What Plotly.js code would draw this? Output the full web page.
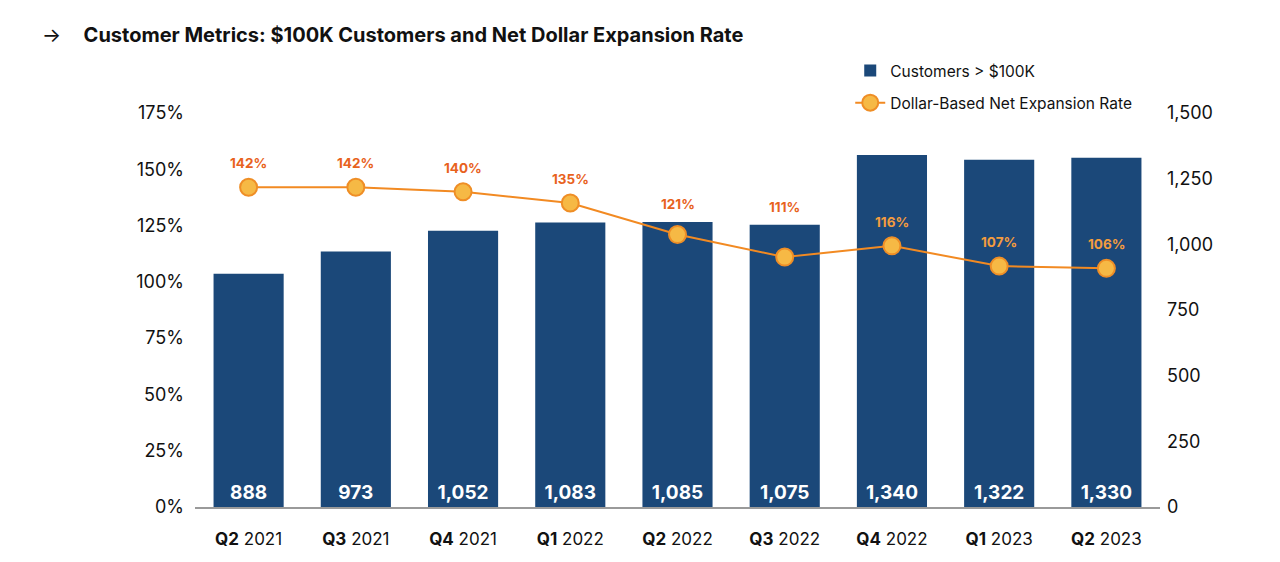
<!DOCTYPE html>
<html>
<head>
<meta charset="utf-8">
<script src="https://cdn.plot.ly/plotly-3.0.1.min.js"></script>
<style>
  html, body { margin: 0; padding: 0; background: #fff; }
  #chart { width: 1280px; height: 562px; }
</style>
</head>
<body>
<div id="chart"></div>
<script>
// ---- Data ----
const quarters = ["Q2", "Q3", "Q4", "Q1", "Q2", "Q3", "Q4", "Q1", "Q2"];
const years = ["2021", "2021", "2021", "2022", "2022", "2022", "2022", "2023", "2023"];
const customers100k = [888, 973, 1052, 1083, 1085, 1075, 1340, 1322, 1330];
const netExpansionRate = [142, 142, 140, 135, 121, 111, 116, 107, 106];
const seriesNames = ["Customers > $100K", "Dollar-Based Net Expansion Rate"];
const chartTitle = "Customer Metrics: $100K Customers and Net Dollar Expansion Rate";
const leftTicks = [0, 25, 50, 75, 100, 125, 150, 175];
const rightTicks = [0, 250, 500, 750, 1000, 1250, 1500];

// ---- Layout constants ----
const FONT = "Inter, 'Noto Sans', 'DejaVu Sans', sans-serif";
const MARGIN = { l: 195, r: 120, t: 113, b: 55 };
const PLOT_H = 562 - MARGIN.t - MARGIN.b;
const LEFT_MAX = 175, RIGHT_MAX = 1500;

// ---- Derived ----
const categories = quarters.map((q, i) => "<b>" + q + "</b> " + years[i]);
const barLabels = customers100k.map(v => v.toLocaleString("en-US"));
const rateLabels = netExpansionRate.map(v => v + "%");

// label offset above each point (px); lift a label that would straddle its bar top
const labelShift = netExpansionRate.map((v, i) => {
  const pt = v / LEFT_MAX * PLOT_H;
  const bar = customers100k[i] / RIGHT_MAX * PLOT_H;
  const base = 24;
  if (pt + base < bar + 14 && pt + base > bar - 22) return Math.max(base, bar - pt + 18);
  return base;
});
const labelColors = netExpansionRate.map((v, i) => {
  const pt = v / LEFT_MAX * PLOT_H + labelShift[i];
  const bar = customers100k[i] / RIGHT_MAX * PLOT_H;
  return pt < bar ? "#F39C3E" : "#E8621D";
});

const barTrace = {
  type: "bar",
  name: seriesNames[0],
  x: categories,
  y: customers100k,
  yaxis: "y",
  marker: { color: "#1B4879" },
  text: barLabels,
  texttemplate: "%{text}",
  textposition: "inside",
  insidetextanchor: "start",
  constraintext: "none",
  textangle: 0,
  textfont: { family: FONT, size: 19, color: "#ffffff", weight: 700 },
  legendgroup: "a"
};

const lineTrace = {
  type: "scatter",
  mode: "lines+markers",
  name: seriesNames[1],
  x: categories,
  y: netExpansionRate,
  yaxis: "y2",
  line: { color: "#F28A22", width: 2 },
  marker: { size: 17, color: "#F6B945", line: { color: "#EF8E26", width: 2 } },
  legendgroup: "b"
};

const rateAnnotations = netExpansionRate.map((v, i) => ({
  x: categories[i],
  y: v,
  xref: "x",
  yref: "y2",
  text: "<b>" + rateLabels[i] + "</b>",
  showarrow: false,
  yshift: labelShift[i],
  font: { family: FONT, size: 13.5, color: labelColors[i] }
}));

const layout = {
  width: 1280,
  height: 562,
  paper_bgcolor: "#ffffff",
  plot_bgcolor: "#ffffff",
  font: { family: FONT, color: "#111111" },
  margin: MARGIN,
  title: {
    text: "→\u00a0\u00a0\u00a0\u00a0<b>" + chartTitle + "</b>",
    font: { family: FONT, size: 20, color: "#111111" },
    x: 42 / 1280, xref: "container", xanchor: "left",
    y: 1 - 35 / 562, yref: "container", yanchor: "middle"
  },
  showlegend: true,
  legend: {
    x: 0.679, xanchor: "left",
    y: 1.15, yanchor: "top",
    font: { family: FONT, size: 15.5, color: "#111111" },
    bgcolor: "rgba(0,0,0,0)",
    tracegroupgap: 9,
    traceorder: "grouped"
  },
  bargap: 0.346,
  annotations: rateAnnotations,
  xaxis: {
    type: "category",
    range: [-0.5, categories.length - 0.5],
    automargin: false,
    showgrid: false,
    showline: true,
    linecolor: "#9a9a9a",
    linewidth: 1.5,
    ticks: "outside",
    ticklen: 16,
    tickcolor: "rgba(0,0,0,0)",
    tickfont: { family: FONT, size: 17, color: "#111111" },
    fixedrange: true
  },
  yaxis: {
    side: "right",
    automargin: false,
    range: [0, RIGHT_MAX],
    tickmode: "array",
    tickvals: rightTicks,
    ticktext: rightTicks.map(v => v.toLocaleString("en-US")),
    showgrid: false,
    zeroline: false,
    showline: false,
    ticklabelstandoff: 6,
    tickfont: { family: FONT, size: 18, color: "#111111" },
    fixedrange: true
  },
  yaxis2: {
    overlaying: "y",
    side: "left",
    automargin: false,
    range: [0, LEFT_MAX],
    tickmode: "array",
    tickvals: leftTicks,
    ticktext: leftTicks.map(v => v + "%"),
    showgrid: false,
    zeroline: false,
    showline: false,
    ticklabelstandoff: 10,
    tickfont: { family: FONT, size: 18, color: "#111111" },
    fixedrange: true
  }
};

Plotly.newPlot("chart", [barTrace, lineTrace], layout, { displayModeBar: false, staticPlot: true });
</script>
</body>
</html>
